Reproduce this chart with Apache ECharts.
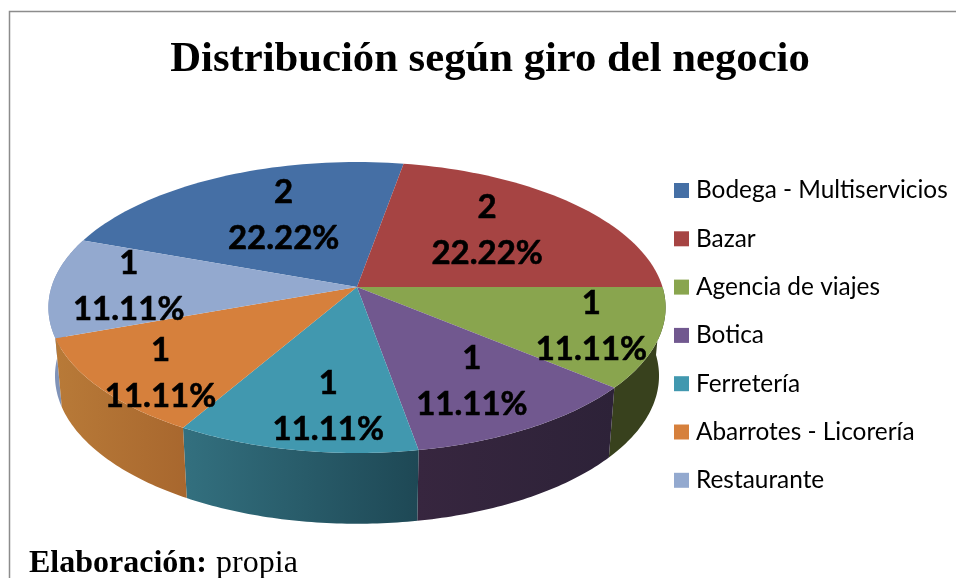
<!DOCTYPE html>
<html><head><meta charset="utf-8">
<script src="https://cdn.jsdelivr.net/npm/echarts@6/dist/echarts.min.js"></script>
<style>html,body{margin:0;padding:0;background:#fff}#c{width:956px;height:578px}</style>
</head><body><div id="c"></div>
<script>
var categories = ['Bodega - Multiservicios','Bazar','Agencia de viajes','Botica','Ferretería','Abarrotes - Licorería','Restaurante'];
var counts = [2,2,1,1,1,1,1];
var percents = ['22.22%','22.22%','11.11%','11.11%','11.11%','11.11%','11.11%'];
var topColors = ['#456FA5','#A64443','#89A54E','#71588F','#4198AF','#D6803C','#93A9CF'];
var wallLeft  = ['#2F4C70','#702E2E','#38411D','#37263F','#33707F','#B87A38','#8093B8'];
var wallRight = ['#2F4C70','#702E2E','#38411D','#2D2238','#1E4855','#A8672E','#8093B8'];
var labelNudge = [[12,-3],[-3,-4],[57,9],[16,14],[6,27],[-48,28],[-45,-1]];

var START_DEG = -70;
var CX = 357, CY = 287, SX = 305.5, SY = 142.6, P = 0.141;
var BOTTOM_SX = 299, BOTTOM_SY = 145, DEPTH = 68;
var total = counts.reduce(function(a,b){return a+b;},0);

function project(deg, f, sx, sy, dy){
  var r = deg*Math.PI/180, w = 1 + P*f*Math.cos(r);
  return [CX + sx*f*Math.sin(r)/w, CY + dy - sy*f*Math.cos(r)/w];
}
function arc(a0, a1, sx, sy, dy){
  var pts = [], n = 48;
  for (var i=0;i<=n;i++) pts.push(project(a0+(a1-a0)*i/n, 1, sx, sy, dy));
  return pts;
}
function sliceRange(idx){
  var before = 0;
  for (var i=0;i<idx;i++) before += counts[i];
  return [START_DEG + before/total*360, START_DEG + (before+counts[idx])/total*360];
}
function makeRender(idx){
  return function(){
    var range = sliceRange(idx), a0 = range[0], a1 = range[1], mid = (a0+a1)/2;
    var children = [];
    var midNorm = ((mid%360)+360)%360;
    if (midNorm > 90 && midNorm < 290){
      var wall = arc(a0,a1,SX,SY,0).concat(arc(a0,a1,BOTTOM_SX,BOTTOM_SY,DEPTH).reverse());
      var g = (midNorm < 180)
        ? new echarts.graphic.LinearGradient(1,0,0,0,[{offset:0,color:wallRight[idx]},{offset:1,color:wallLeft[idx]}])
        : new echarts.graphic.LinearGradient(0,0,1,0,[{offset:0,color:wallLeft[idx]},{offset:1,color:wallRight[idx]}]);
      children.push({type:'polygon',z2:idx===6?0:1,shape:{points:wall},style:{fill:g},silent:true});
    }
    children.push({type:'polygon',z2:10,shape:{points:[[CX,CY]].concat(arc(a0,a1,SX,SY,0))},style:{fill:topColors[idx]},silent:true});
    var lp = project(mid,0.6,SX,SY,0);
    children.push({type:'text',z2:20,silent:true,style:{
      x:lp[0]+labelNudge[idx][0], y:lp[1]+labelNudge[idx][1],
      text:counts[idx]+'\n'+percents[idx],
      align:'center',verticalAlign:'middle',
      fontFamily:'Lato',fontWeight:'bold',fontSize:33,lineHeight:46,fill:'#000',stroke:'#000',lineWidth:0.6
    }});
    return {type:'group',children:children};
  };
}
var series = categories.map(function(name,i){
  return {type:'custom',name:name,coordinateSystem:'none',animation:false,silent:true,
    itemStyle:{color:topColors[i]},data:[[counts[i]]],renderItem:makeRender(i)};
});
var chart = echarts.init(document.getElementById('c'),null,{renderer:'canvas'});
chart.setOption({
  animation:false,backgroundColor:'#fff',
  title:{text:'Distribución según giro del negocio',left:485,top:33,textAlign:'center',
    textStyle:{fontFamily:'Liberation Serif',fontWeight:'bold',fontSize:42.7,color:'#000'}},
  legend:{orient:'vertical',left:669,top:173,itemWidth:15,itemHeight:15,itemGap:23.3,
    icon:'rect',selectedMode:false,data:categories,
    textStyle:{fontFamily:'Lato',fontSize:24.4,color:'#000',padding:[0,0,0,2],height:25,lineHeight:25}},
  graphic:[
    {type:'rect',z:0,silent:true,shape:{x:9.5,y:11.5,width:960,height:600},style:{fill:'none',stroke:'#8c8c8c',lineWidth:1.5}},
    {type:'text',z:50,silent:true,style:{x:29,y:564,verticalAlign:'middle',
      text:'{b|Elaboración:} {r|propia}',
      rich:{b:{fontFamily:'Liberation Serif',fontWeight:'bold',fontSize:32,fill:'#000'},
            r:{fontFamily:'Liberation Serif',fontSize:32,fill:'#000',padding:[0,0,0,6]}}}}
  ],
  series:series
});
</script></body></html>
